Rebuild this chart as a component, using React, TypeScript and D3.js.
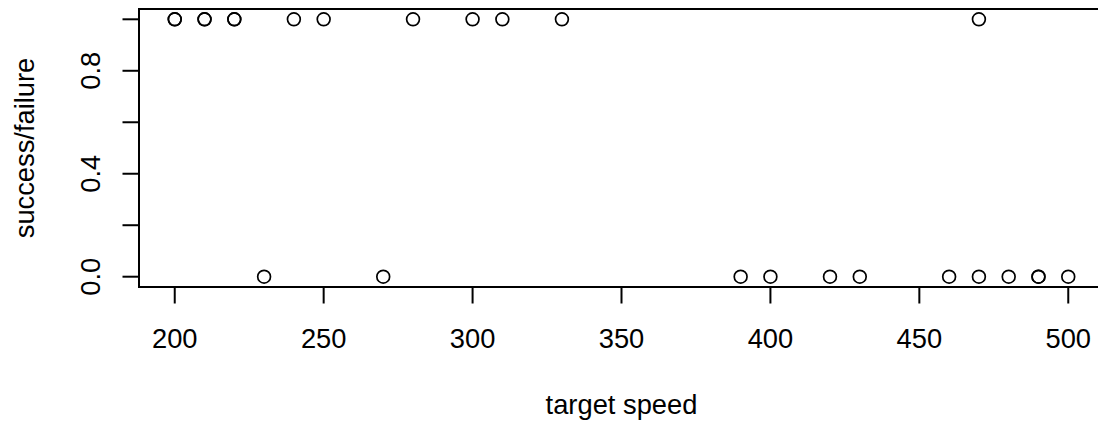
import React from "react";
import * as d3 from "d3";

const speed = [200, 200, 210, 210, 220, 220, 240, 250, 280, 300, 310, 330, 470,
  230, 270, 390, 400, 420, 430, 460, 470, 480, 490, 490, 500];
const outcome = [1, 1, 1, 1, 1, 1, 1, 1, 1, 1, 1, 1, 1,
  0, 0, 0, 0, 0, 0, 0, 0, 0, 0, 0, 0];
const xTicks = [200, 250, 300, 350, 400, 450, 500];
const yTicks = [0, 0.2, 0.4, 0.6, 0.8, 1.0];
const yLabels = [0, 0.4, 0.8];

const W = 1098, H = 428;
const left = 139, right = 1104, top = 9, bottom = 287;
const FONT = "'Liberation Sans', Arial, Helvetica, sans-serif";
const FS = 27.3;

export default function App() {
  const x = d3.scaleLinear().domain([188, 512]).range([left, right]);
  const y = d3.scaleLinear().domain([-0.04, 1.04]).range([bottom, top]);
  const tick = 16.5;
  return (
    <svg width={W} height={H} style={{ position: "absolute", left: 0, top: 0, background: "#fff" }}>
      <rect x={left} y={top} width={right - left} height={bottom - top} fill="none" stroke="#000" strokeWidth={2} />
      {/* x axis */}
      <line x1={x(xTicks[0])} x2={x(xTicks[xTicks.length - 1])} y1={bottom} y2={bottom} stroke="#000" strokeWidth={2} />
      {xTicks.map((t) => (
        <g key={"xt" + t}>
          <line x1={x(t)} x2={x(t)} y1={bottom} y2={bottom + tick} stroke="#000" strokeWidth={2} />
          <text x={x(t)} y={348} textAnchor="middle" fontFamily={FONT} fontSize={FS} fill="#000">{t}</text>
        </g>
      ))}
      {/* y axis */}
      <line x1={left} x2={left} y1={y(0)} y2={y(1)} stroke="#000" strokeWidth={2} />
      {yTicks.map((t) => (
        <line key={"yt" + t} x1={left} x2={left - tick} y1={y(t)} y2={y(t)} stroke="#000" strokeWidth={2} />
      ))}
      {yLabels.map((t) => (
        <text key={"yl" + t} transform={`translate(99.5,${y(t)}) rotate(-90)`} textAnchor="middle" fontFamily={FONT} fontSize={FS} fill="#000">{t.toFixed(1)}</text>
      ))}
      {/* titles */}
      <text x={(left + right) / 2} y={414} textAnchor="middle" fontFamily={FONT} fontSize={FS} fill="#000">target speed</text>
      <text transform={`translate(33.5,${(top + bottom) / 2}) rotate(-90)`} textAnchor="middle" fontFamily={FONT} fontSize={FS} fill="#000">success/failure</text>
      {/* points */}
      {speed.map((s, i) => (
        <circle key={"p" + i} cx={x(s)} cy={y(outcome[i])} r={6.4} fill="none" stroke="#000" strokeWidth={1.7} />
      ))}
    </svg>
  );
}
